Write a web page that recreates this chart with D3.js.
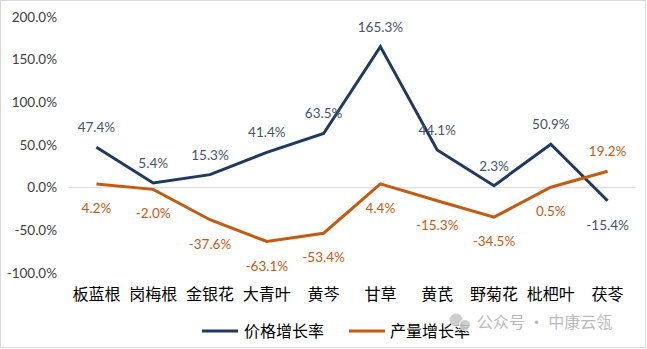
<!DOCTYPE html>
<html>
<head>
<meta charset="utf-8">
<script src="https://cdn.jsdelivr.net/npm/d3@7"></script>
<style>
  html, body { margin: 0; padding: 0; background: #fff; }
  svg { display: block; }
</style>
</head>
<body>
<svg id="chart" width="647" height="349"></svg>
<script>
// Herb names along the x axis
const categories = ["板蓝根", "岗梅根", "金银花", "大青叶", "黄芩", "甘草", "黄芪", "野菊花", "枇杷叶", "茯苓"];
// Year-on-year growth rates, in percent
const priceGrowth = [47.4, 5.4, 15.3, 41.4, 63.5, 165.3, 44.1, 2.3, 50.9, -15.4];
const outputGrowth = [4.2, -2.0, -37.6, -63.1, -53.4, 4.4, -15.3, -34.5, 0.5, 19.2];
const yTicks = [-100, -50, 0, 50, 100, 150, 200];
const seriesNames = ["价格增长率", "产量增长率"];
// where the two lines cross, the labels trade sides
const swappedLabels = ["茯苓"];

const W = 647, H = 349;
const numFont = "Lato, 'Noto Sans CJK SC', sans-serif";
const cjkFont = "'Noto Sans CJK SC', sans-serif";
const blue = "#203864", orange = "#C55A11";

const svg = d3.select("#chart");

// outer frame
svg.append("rect").attr("x", 0.5).attr("y", 0.5).attr("width", W - 2).attr("height", H - 2)
  .attr("fill", "#fff").attr("stroke", "#d9d9d9");

const x = d3.scaleBand().domain(categories).range([68, 636]);
const y = d3.scaleLinear().domain([-100, 200]).range([273, 17]);
const fmt = v => v.toFixed(1) + "%";

// y axis labels (no line, no ticks)
const yAxis = d3.axisLeft(y).tickValues(yTicks).tickFormat(fmt).tickSize(0).tickPadding(0);
const gy = svg.append("g").attr("transform", "translate(57,0)").call(yAxis);
gy.select(".domain").remove();
gy.selectAll("text").attr("font-family", numFont).attr("font-size", 13.5).attr("fill", "#404040");

// zero baseline
svg.append("line").attr("x1", x.range()[0]).attr("x2", x.range()[1])
  .attr("y1", y(0)).attr("y2", y(0)).attr("stroke", "#d9d9d9").attr("stroke-width", 1);

// category labels
const xAxis = d3.axisBottom(x).tickSize(0).tickPadding(0);
const gx = svg.append("g").attr("transform", "translate(0,288)").call(xAxis);
gx.select(".domain").remove();
gx.selectAll("text").attr("font-family", cjkFont).attr("font-size", 16).attr("fill", "#000")
  .attr("dy", "0.35em").attr("y", 6);

const cx = c => x(c) + x.bandwidth() / 2;
const line = d3.line().x(d => cx(d.c)).y(d => y(d.v));

const ABOVE = -15, BELOW = 29;
const series = [
  { name: seriesNames[0], values: priceGrowth, color: blue, text: "#44546A", dy: ABOVE },
  { name: seriesNames[1], values: outputGrowth, color: orange, text: "#C55A11", dy: BELOW }
];

series.forEach(s => {
  const pts = categories.map((c, i) => ({ c, v: s.values[i] }));
  svg.append("path").datum(pts).attr("d", line).attr("fill", "none")
    .attr("stroke", s.color).attr("stroke-width", 3).attr("stroke-linejoin", "miter");
});

// data labels drawn after both lines
series.forEach(s => {
  const other = s.dy === ABOVE ? BELOW : ABOVE;
  svg.append("g").selectAll("text").data(categories.map((c, i) => ({ c, v: s.values[i] })))
    .join("text")
    .attr("x", d => cx(d.c))
    .attr("y", d => y(d.v) + (swappedLabels.includes(d.c) ? other : s.dy))
    .attr("text-anchor", "middle")
    .attr("font-family", numFont).attr("font-size", 13.5).attr("fill", s.text)
    .text(d => fmt(d.v));
});

// legend
const legend = svg.append("g").attr("transform", "translate(0,331)");
[[202, 244], [349, 390]].forEach(([lx, tx], i) => {
  legend.append("line").attr("x1", lx).attr("x2", lx + 36).attr("y1", 0).attr("y2", 0)
    .attr("stroke", series[i].color).attr("stroke-width", 3);
  legend.append("text").attr("x", tx).attr("y", 0).attr("dy", "0.35em")
    .attr("font-family", cjkFont).attr("font-size", 16).attr("fill", "#000")
    .text(series[i].name);
});

// account mark
const wm = svg.append("g").attr("transform", "translate(0,322)").attr("opacity", 0.9);
wm.append("circle").attr("cx", 456).attr("cy", -2).attr("r", 6.5).attr("fill", "#c8c8c8");
wm.append("circle").attr("cx", 465).attr("cy", 3).attr("r", 5.5).attr("fill", "#c8c8c8")
  .attr("stroke", "#fff").attr("stroke-width", 1);
wm.append("text").attr("x", 477).attr("y", 0).attr("dy", "0.35em")
  .attr("font-family", cjkFont).attr("font-size", 16).attr("fill", "#b4b4b4")
  .text("公众号 · 中康云瓴");
</script>
</body>
</html>
